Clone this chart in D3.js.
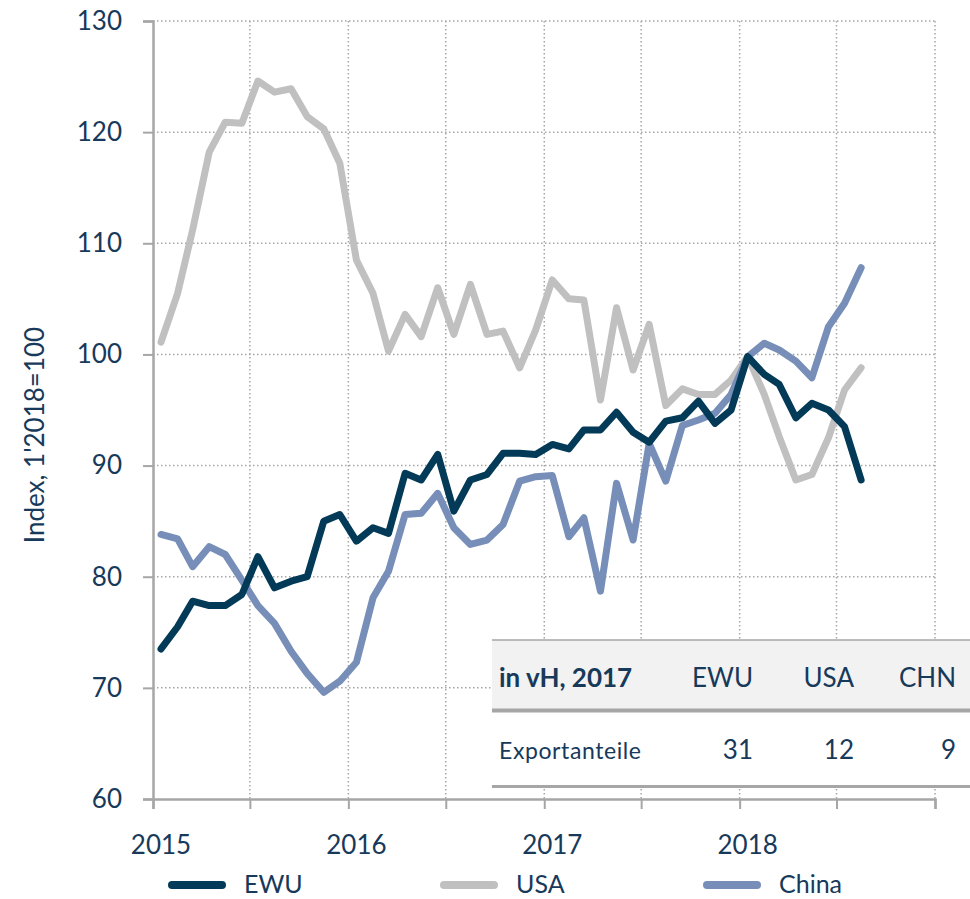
<!DOCTYPE html>
<html><head><meta charset="utf-8">
<script src="https://cdn.jsdelivr.net/npm/d3@7/dist/d3.min.js"></script>
<style>
body{margin:0;background:#fff}
svg{display:block}
text{font-family:Lato,"Open Sans",sans-serif;fill:#17395a}
</style>
</head><body>
<svg id="chart" width="970" height="899"></svg>
<script>
// ---- data ----
const months = ["2015-01","2015-02","2015-03","2015-04","2015-05","2015-06","2015-07","2015-08","2015-09","2015-10","2015-11","2015-12",
"2016-01","2016-02","2016-03","2016-04","2016-05","2016-06","2016-07","2016-08","2016-09","2016-10","2016-11","2016-12",
"2017-01","2017-02","2017-03","2017-04","2017-05","2017-06","2017-07","2017-08","2017-09","2017-10","2017-11","2017-12",
"2018-01","2018-02","2018-03","2018-04","2018-05","2018-06","2018-07","2018-08"];
const ewu = [73.5,75.5,77.8,77.4,77.4,78.4,81.8,79.0,79.6,80.0,85.0,85.6,83.2,84.4,83.9,89.3,88.7,91.0,85.9,88.7,89.2,91.1,91.1,91.0,91.9,91.5,93.2,93.2,94.8,93.0,92.1,94.0,94.3,95.8,93.8,95.0,99.8,98.2,97.3,94.3,95.6,95.0,93.5,88.7];
const usa = [101.1,105.5,111.2,118.2,120.9,120.8,124.6,123.6,123.9,121.4,120.3,117.2,108.5,105.5,100.3,103.6,101.6,106.0,101.8,106.3,101.8,102.1,98.8,102.2,106.7,105.0,104.9,95.9,104.2,98.6,102.7,95.4,96.9,96.4,96.4,97.7,99.8,96.4,92.6,88.7,89.2,92.5,96.8,98.8];
const china = [83.8,83.4,80.9,82.7,82.0,79.7,77.4,75.8,73.3,71.3,69.6,70.6,72.3,78.1,80.5,85.6,85.7,87.5,84.4,82.9,83.3,84.7,88.6,89.0,89.1,83.6,85.3,78.7,88.4,83.3,92.0,88.6,93.6,94.1,94.7,96.4,99.8,101.0,100.4,99.4,97.9,102.5,104.6,107.8];
const seriesNames = ["EWU","USA","China"];
const seriesColors = ["#023a57","#c0c0c0","#768eb8"];
const yTicks = [60,70,80,90,100,110,120,130];
const yearLabels = ["2015","2016","2017","2018"];
const yTitle = "Index, 1'2018=100";
const tableHeader = ["in vH, 2017","EWU","USA","CHN"];
const tableRow = ["Exportanteile","31","12","9"];

// ---- chart ----
const svg = d3.select("#chart");
const parse = d3.timeParse("%Y-%m");
const mid = m => d3.timeDay.offset(parse(m), 15);
const x = d3.scaleTime().domain([new Date(2015,0,1), new Date(2019,0,1)]).range([153,935]);
const y = d3.scaleLinear().domain([60,130]).range([799,21]);
const gridColor = "#a6a6a6";

// gridlines
const halfYears = d3.timeMonth.every(6).range(new Date(2015,0,1), new Date(2019,0,2));
svg.append("g").selectAll("line").data(yTicks.slice(1)).join("line")
  .attr("x1",153).attr("x2",935).attr("y1",d=>y(d)).attr("y2",d=>y(d))
  .attr("stroke",gridColor).attr("stroke-width",1.5).attr("stroke-dasharray","1.5,2.5");
svg.append("g").selectAll("line").data(halfYears.slice(1)).join("line")
  .attr("x1",d=>x(d)).attr("x2",d=>x(d)).attr("y1",21).attr("y2",799)
  .attr("stroke",gridColor).attr("stroke-width",1.5).attr("stroke-dasharray","1.5,2.5");

// y axis
const yAxis = svg.append("g").attr("transform","translate(153,0)")
  .call(d3.axisLeft(y).tickValues(yTicks).tickSize(10).tickPadding(21).tickFormat(d3.format("d")));
yAxis.select(".domain").attr("stroke",gridColor).attr("stroke-width",2.5);
yAxis.selectAll(".tick line").attr("stroke",gridColor).attr("stroke-width",2);
yAxis.selectAll(".tick text").attr("font-size",26).attr("font-family","Lato").attr("fill","#17395a");

// x axis
const xAxis = svg.append("g").attr("transform","translate(0,799)")
  .call(d3.axisBottom(x).tickValues(halfYears).tickSize(10).tickFormat(""));
xAxis.select(".domain").attr("stroke",gridColor).attr("stroke-width",2.5);
xAxis.selectAll(".tick line").attr("stroke",gridColor).attr("stroke-width",2);
svg.append("g").selectAll("text").data(yearLabels).join("text")
  .attr("x",d=>x(mid(d+"-01"))).attr("y",854).attr("text-anchor","middle")
  .attr("font-size",26).text(d=>d);

// y title
svg.append("text").attr("transform","translate(44,435) rotate(-90)")
  .attr("text-anchor","middle").attr("font-size",26).text(yTitle);

// lines
const line = d3.line().x((d,i)=>x(mid(months[i]))).y(d=>y(d));
const drawOrder = [1,2,0];
const allSeries = [ewu,usa,china];
drawOrder.forEach(k=>{
  svg.append("path").datum(allSeries[k]).attr("d",line)
    .attr("fill","none").attr("stroke",seriesColors[k]).attr("stroke-width",7)
    .attr("stroke-linejoin","round").attr("stroke-linecap","round");
});

// table
const tg = svg.append("g");
tg.append("rect").attr("x",492).attr("y",640).attr("width",478).attr("height",148).attr("fill","#fff");
tg.append("rect").attr("x",492).attr("y",640).attr("width",478).attr("height",70).attr("fill","#f2f2f2");
tg.append("line").attr("x1",492).attr("x2",970).attr("y1",640).attr("y2",640).attr("stroke",gridColor).attr("stroke-width",1.5);
tg.append("line").attr("x1",492).attr("x2",970).attr("y1",710.5).attr("y2",710.5).attr("stroke",gridColor).attr("stroke-width",4);
tg.append("line").attr("x1",492).attr("x2",970).attr("y1",786.5).attr("y2",786.5).attr("stroke",gridColor).attr("stroke-width",3);
const colRight = [null,753,854,956];
tableHeader.forEach((t,i)=>{
  tg.append("text").attr("x",i===0?499:colRight[i]).attr("y",687)
    .attr("text-anchor",i===0?"start":"end").attr("font-size",26)
    .attr("font-weight",i===0?"bold":"normal").text(t);
});
tableRow.forEach((t,i)=>{
  tg.append("text").attr("x",i===0?499:colRight[i]).attr("y",759)
    .attr("text-anchor",i===0?"start":"end").attr("font-size",i===0?23:26)
    .attr("letter-spacing",i===0?0.6:0).text(t);
});

// legend
const legX = [168,440,703];
seriesNames.forEach((n,k)=>{
  svg.append("line").attr("x1",legX[k]+4).attr("x2",legX[k]+54).attr("y1",885).attr("y2",885)
    .attr("stroke",seriesColors[k]).attr("stroke-width",8).attr("stroke-linecap","round");
  svg.append("text").attr("x",legX[k]+76).attr("y",893).attr("font-size",25).text(n);
});
</script>
</body></html>
